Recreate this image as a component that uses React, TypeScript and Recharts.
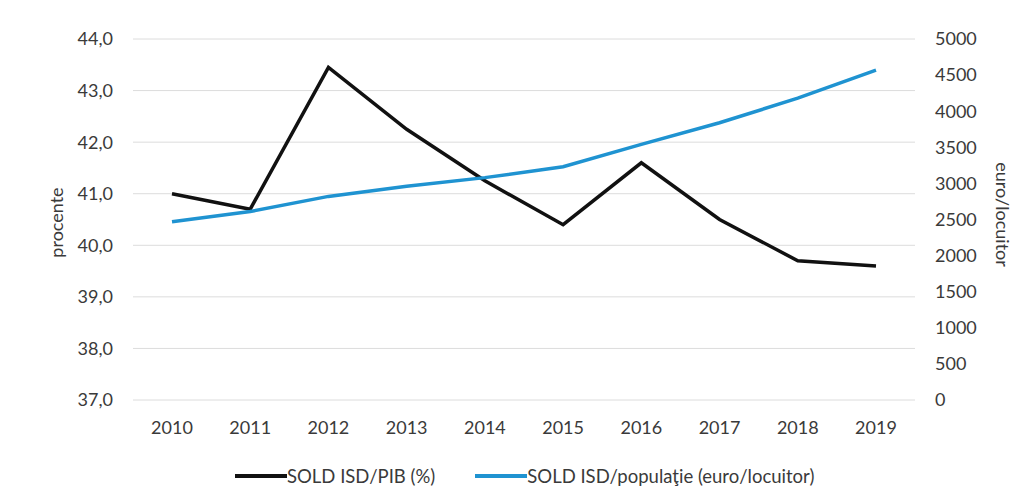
import React from 'react';
import { LineChart, Line, XAxis, YAxis, CartesianGrid, Legend } from 'recharts';

const years = ['2010', '2011', '2012', '2013', '2014', '2015', '2016', '2017', '2018', '2019'];
const soldPib = [41.0, 40.7, 43.45, 42.25, 41.25, 40.4, 41.6, 40.5, 39.7, 39.6];
const soldPop = [2470, 2610, 2820, 2960, 3080, 3230, 3540, 3840, 4180, 4570];
const leftTicks = [37, 38, 39, 40, 41, 42, 43, 44];
const rightTicks = [0, 500, 1000, 1500, 2000, 2500, 3000, 3500, 4000, 4500, 5000];

const nameBlack = 'SOLD ISD/PIB (%)';
const nameBlue = 'SOLD ISD/populaţie (euro/locuitor)';

const data = years.map((y, i) => ({ year: y, pib: soldPib[i], pop: soldPop[i] }));

const FONT = 'Lato, "Open Sans", sans-serif';
const TXT = '#3a3a3a';

const renderLegend = (props: any) => {
  const { payload } = props;
  return (
    <div style={{ display: 'flex', alignItems: 'center', paddingLeft: 235, fontFamily: FONT, fontSize: 18.5, color: TXT }}>
      {payload.map((p: any, i: number) => (
        <div key={i} style={{ display: 'flex', alignItems: 'center', marginRight: 40 }}>
          <div style={{ width: 52, height: 4, background: p.color }} />
          <span>{p.value}</span>
        </div>
      ))}
    </div>
  );
};

export default function App() {
  return (
    <div style={{ position: 'absolute', left: 0, top: 0, background: '#fff' }}>
      <LineChart width={1030} height={499} data={data} margin={{ top: 39, right: 0, bottom: 59, left: 0 }}>
        <CartesianGrid vertical={false} stroke="#dcdcdc" yAxisId="left" />
        <XAxis
          dataKey="year"
          axisLine={false}
          tickLine={false}
          tickSize={0}
          tickMargin={21}
          height={40}
          interval={0}
          padding={{ left: 39, right: 39 }}
          tick={{ fill: TXT, fontSize: 18, fontFamily: FONT }}
        />
        <YAxis
          yAxisId="left"
          orientation="left"
          width={133}
          domain={[37, 44]}
          ticks={leftTicks}
          axisLine={false}
          tickLine={false}
          tickSize={0}
          tickMargin={20}
          tickFormatter={(v: number) => v.toFixed(1).replace('.', ',')}
          tick={{ fill: TXT, fontSize: 18, fontFamily: FONT }}
          label={{ value: 'procente', angle: -90, position: 'center', dx: -10, dy: 3, fill: TXT, fontSize: 18, fontFamily: FONT }}
        />
        <YAxis
          yAxisId="right"
          orientation="right"
          width={115}
          domain={[0, 5000]}
          ticks={rightTicks}
          axisLine={false}
          tickLine={false}
          tickSize={0}
          tickMargin={20}
          tick={{ fill: TXT, fontSize: 18, fontFamily: FONT }}
          label={{ value: 'euro/locuitor', angle: 90, position: 'center', dx: 30, dy: -5, fill: TXT, fontSize: 18, fontFamily: FONT }}
        />
        <Legend
          layout="vertical"
          align="center"
          verticalAlign="middle"
          content={renderLegend}
          wrapperStyle={{ position: 'absolute', top: 465, left: 0, width: 1030 }}
        />
        <Line yAxisId="left" type="linear" dataKey="pib" name={nameBlack} stroke="#111111" strokeWidth={3.5} dot={false} isAnimationActive={false} />
        <Line yAxisId="right" type="linear" dataKey="pop" name={nameBlue} stroke="#1f93d1" strokeWidth={3.5} dot={false} isAnimationActive={false} />
      </LineChart>
    </div>
  );
}
